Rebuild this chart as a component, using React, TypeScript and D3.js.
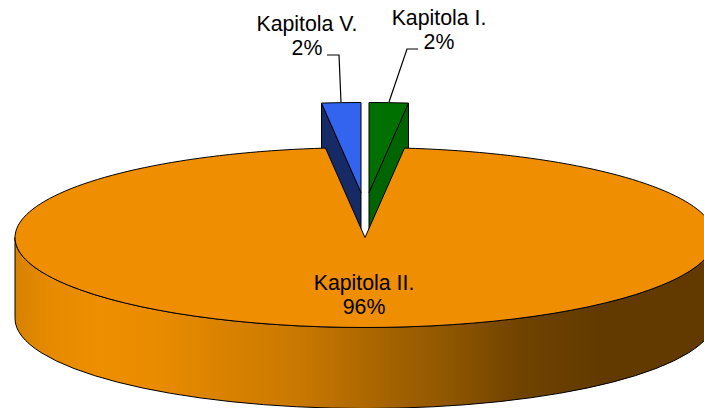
import React from 'react';
import * as d3 from 'd3';

const categories = ['Kapitola I.', 'Kapitola II.', 'Kapitola V.'];
const values = [1.8, 96.4, 1.8];
const percentLabels = ['2%', '96%', '2%'];
const topColors = ['#007000', '#EE8E00', '#3264F0'];
const sideColors = ['#006400', '#EE8E00', '#162B66'];
const rimStops: [number, string][] = [
  [0, '#D88200'],
  [0.05, '#E68A00'],
  [0.12, '#EE8E00'],
  [0.2, '#EA8C00'],
  [0.264, '#DF8500'],
  [0.41, '#C87800'],
  [0.5, '#AE6800'],
  [0.62, '#8F5600'],
  [0.72, '#704300'],
  [0.835, '#623A00'],
  [1, '#623A00'],
];

const width = 704;
const height = 408;
const cx = 365;
const cy = 237.5;
const rx = 350;
const ry = 90;
const depth = 81;
const lift = 45; // exploded slices sit higher
const shift = 4;

const pie = d3.pie<number>().sort(null);
const slices = pie(values);
const arc = d3.arc<d3.PieArcDatum<number>>().innerRadius(0).outerRadius(rx);

const xAt = (a: number) => rx * Math.sin(a);
const yAt = (a: number) => -ry * Math.cos(a);

// cut face of an exploded slice, straight down from the radius at angle a
const cutFace = (a: number) => {
  const p = d3.path();
  p.moveTo(0, 0);
  p.lineTo(xAt(a), yAt(a));
  p.lineTo(xAt(a), yAt(a) + depth);
  p.lineTo(0, depth);
  p.closePath();
  return p.toString();
};

const rimPath = `M${-rx},0 A${rx},${ry} 0 0 0 ${rx},0 L${rx},${depth} A${rx},${ry} 0 0 1 ${-rx},${depth} Z`;

// gradient is used inside the translated pie group, so it runs in local x
const rimX = d3.scaleLinear().domain([0, 1]).range([-rx, rx]);

const Exploded = ({ i, dir, angle }: { i: number; dir: number; angle: number }) => (
  <g transform={`translate(${cx + dir * shift},${cy - lift})`}>
    <path d={cutFace(angle)} fill={sideColors[i]} stroke="#000" strokeWidth={1} />
    <g transform={`scale(1,${ry / rx})`}>
      <path
        d={arc(slices[i]) as string}
        fill={topColors[i]}
        stroke="#000"
        strokeWidth={1}
        vectorEffect="non-scaling-stroke"
      />
    </g>
  </g>
);

const labelStyle: React.CSSProperties = {
  fontFamily: '"Liberation Sans", Arial, sans-serif',
  fontSize: 21.3,
  fill: '#000',
  textAnchor: 'middle',
};

export default function App() {
  return (
    <svg
      width={width}
      height={height}
      viewBox={`0 0 ${width} ${height}`}
      style={{ position: 'fixed', left: 0, top: 0, background: '#fff' }}
    >
      <defs>
        <linearGradient id="rim" gradientUnits="userSpaceOnUse" x1={rimX(0)} x2={rimX(1)} y1={0} y2={0}>
          {rimStops.map(([o, c]) => (
            <stop key={o} offset={o} stopColor={c} />
          ))}
        </linearGradient>
      </defs>

      <Exploded i={2} dir={-1} angle={slices[2].startAngle} />
      <Exploded i={0} dir={1} angle={slices[0].endAngle} />

      <g transform={`translate(${cx},${cy})`}>
        <path d={rimPath} fill="url(#rim)" stroke="#000" strokeWidth={1} />
        <g transform={`scale(1,${ry / rx})`}>
          <path
            d={arc(slices[1]) as string}
            fill={topColors[1]}
            stroke="#000"
            strokeWidth={1}
            vectorEffect="non-scaling-stroke"
          />
        </g>
      </g>

      <path d={d3.line()([[327, 55], [339, 55], [341, 102]]) as string} fill="none" stroke="#000" strokeWidth={1.2} />
      <path d={d3.line()([[418, 49], [407, 49], [389, 102]]) as string} fill="none" stroke="#000" strokeWidth={1.2} />

      <text x={307} y={31} style={labelStyle}>{categories[2]}</text>
      <text x={307} y={55} style={labelStyle}>{percentLabels[2]}</text>
      <text x={439} y={25} style={labelStyle}>{categories[0]}</text>
      <text x={439} y={49} style={labelStyle}>{percentLabels[0]}</text>
      <text x={364} y={290} style={labelStyle}>{categories[1]}</text>
      <text x={364} y={314} style={labelStyle}>{percentLabels[1]}</text>
    </svg>
  );
}
